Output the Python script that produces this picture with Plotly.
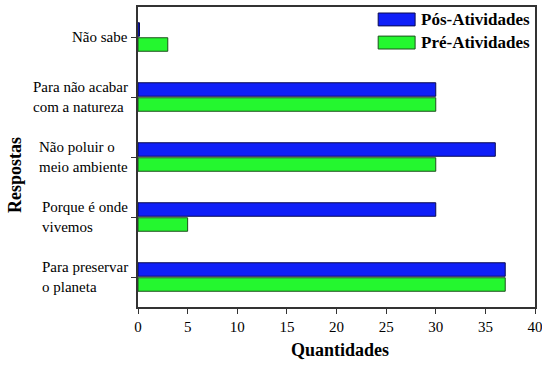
import plotly.graph_objects as go

categories = ["Para preservar<br>o planeta", "Porque é onde<br>vivemos", "Não poluir o<br>meio ambiente",
              "Para não acabar<br>com a natureza", "Não sabe"]
cat_keys = ["c0", "c1", "c2", "c3", "c4"]
pos_values = [37, 30, 36, 30, 0.15]
pre_values = [37, 5, 30, 30, 3]
series_names = ["Pós-Atividades", "Pré-Atividades"]
x_ticks = [0, 5, 10, 15, 20, 25, 30, 35, 40]

BLUE = "#0f1ff8"
GREEN = "#24f72f"
FONT = "Liberation Serif"

fig = go.Figure()
fig.add_trace(go.Bar(y=cat_keys, x=pre_values, orientation="h", name=series_names[1],
                     marker=dict(color=GREEN, line=dict(color="#1c4f1c", width=1)), showlegend=False,
                     hoverinfo="skip"))
fig.add_trace(go.Bar(y=cat_keys, x=pos_values, orientation="h", name=series_names[0],
                     marker=dict(color=BLUE, line=dict(color="#0a0a50", width=1)), showlegend=False,
                     hoverinfo="skip"))

annotations = []
for key, label in zip(cat_keys, categories):
    annotations.append(dict(x=-0.02, xref="paper", y=key, yref="y", text=label, showarrow=False,
                            xanchor="right", yanchor="middle", align="left",
                            font=dict(family=FONT, size=15, color="black")))

# axis titles
annotations.append(dict(x=0.51, xref="paper", y=-0.143, yref="paper", text="<b>Quantidades</b>",
                        showarrow=False, xanchor="center", yanchor="middle",
                        font=dict(family=FONT, size=18, color="black")))
annotations.append(dict(x=-0.31, xref="paper", y=0.44, yref="paper", text="<b>Respostas</b>",
                        showarrow=False, xanchor="center", yanchor="middle", textangle=-90,
                        font=dict(family=FONT, size=18, color="black")))

# manual legend
legend_items = [(series_names[0], BLUE, "#0a0a50", 0.937, 0.98), (series_names[1], GREEN, "#1c4f1c", 0.86, 0.903)]
shapes = []
for name, col, lc, y0, y1 in legend_items:
    shapes.append(dict(type="rect", xref="paper", yref="paper", x0=0.605, x1=0.698, y0=y0, y1=y1,
                       fillcolor=col, line=dict(color=lc, width=1)))
    annotations.append(dict(x=0.708, xref="paper", y=(y0 + y1) / 2, yref="paper", text="<b>%s</b>" % name,
                            showarrow=False, xanchor="left", yanchor="middle",
                            font=dict(family=FONT, size=17, color="black")))

fig.update_layout(
    width=542, height=366,
    margin=dict(l=138, r=7, t=7, b=59, autoexpand=False),
    paper_bgcolor="white", plot_bgcolor="white",
    barmode="group", bargap=0.5, bargroupgap=0.1,
    font=dict(family=FONT, size=15, color="black"),
    annotations=annotations, shapes=shapes,
    xaxis=dict(range=[0, 40], tickvals=x_ticks, ticks="outside", ticklen=5, tickcolor="#333",
               showline=True, linecolor="#333", linewidth=1.5, mirror=True, showgrid=False, zeroline=False,
               tickfont=dict(family=FONT, size=15), automargin=False, ticklabeloverflow="allow"),
    yaxis=dict(type="category", categoryarray=cat_keys, range=[-0.5, 4.5], ticks="outside", ticklen=5,
               tickcolor="#333", showticklabels=False, automargin=False,
               showline=True, linecolor="#333", linewidth=1.5, mirror=True, showgrid=False, zeroline=False),
)

fig.write_html("out.html", config={"displayModeBar": False},
               post_script="document.body.style.margin='0';document.body.style.overflow='hidden';")
